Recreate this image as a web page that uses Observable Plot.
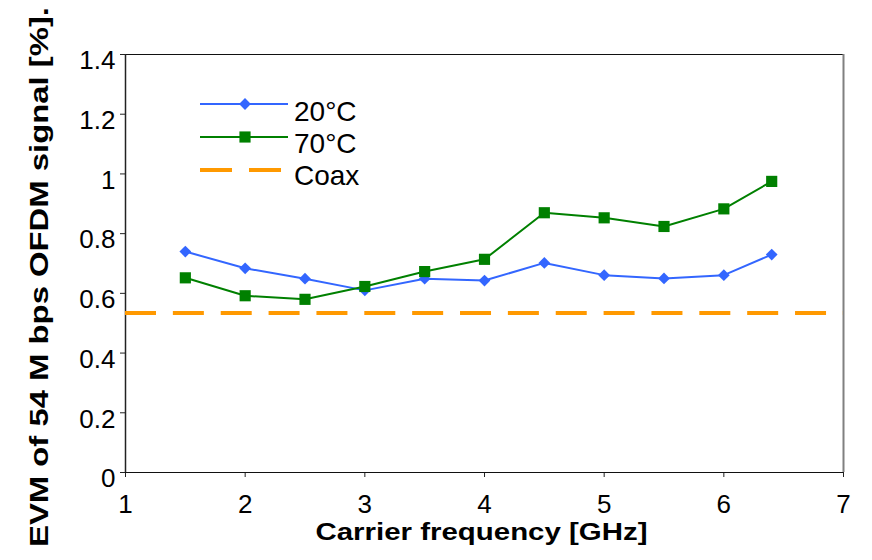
<!DOCTYPE html>
<html>
<head>
<meta charset="utf-8">
<script src="https://cdn.jsdelivr.net/npm/d3@7"></script>
<script src="https://cdn.jsdelivr.net/npm/@observablehq/plot@0.6"></script>
<style>
  html, body { margin: 0; padding: 0; background: #fff; }
  #wrap { position: relative; width: 872px; height: 560px; font-family: Arial, "Liberation Sans", sans-serif; }
  #legend { position: absolute; left: 0; top: 0; pointer-events: none; }
</style>
</head>
<body>
<div id="wrap"></div>
<script>
// ---- data ----
const freqs20 = [1.5, 2, 2.5, 3, 3.5, 4, 4.5, 5, 5.5, 6, 6.4];
const evm20   = [0.74, 0.684, 0.649, 0.61, 0.649, 0.643, 0.702, 0.661, 0.65, 0.661, 0.73];
const freqs70 = [1.5, 2, 2.5, 3, 3.5, 4, 4.5, 5, 5.5, 6, 6.4];
const evm70   = [0.652, 0.592, 0.58, 0.623, 0.673, 0.714, 0.87, 0.853, 0.824, 0.883, 0.975];
const coaxEvm = 0.534;
const xTicks = [1, 2, 3, 4, 5, 6, 7];
const yTicks = [0, 0.2, 0.4, 0.6, 0.8, 1, 1.2, 1.4];
const seriesNames = ["20°C", "70°C", "Coax"];
const xTitle = "Carrier frequency [GHz]";
const yTitle = "EVM of 54 M bps OFDM signal [%].";

const c20 = "#3366FF", c70 = "#008000", cCoax = "#FF9900";
const font = "Arial, 'Liberation Sans', sans-serif";
const fmt = d => String(+d.toFixed(1));

const d20 = freqs20.map((f, i) => ({x: f, y: evm20[i]}));
const d70 = freqs70.map((f, i) => ({x: f, y: evm70[i]}));

const chart = Plot.plot({
  width: 872,
  height: 560,
  marginLeft: 125,
  marginRight: 29,
  marginTop: 54,
  marginBottom: 88,
  style: {fontFamily: font, background: "white", color: "black"},
  x: {domain: [1, 7]},
  y: {domain: [0, 1.4]},
  marks: [
    // frame
    Plot.ruleY([1.4], {stroke: "#111", strokeWidth: 1.2}),
    Plot.ruleX([7], {stroke: "#808080", strokeWidth: 2}),
    // axes
    Plot.axisX({ticks: xTicks, tickSize: 5, tickPadding: 17, tickFormat: fmt, fontSize: 26, label: null, stroke: "#222"}),
    Plot.axisY({ticks: yTicks, tickSize: 5, tickFormat: () => "", label: null, stroke: "#222"}),
    Plot.axisY({ticks: yTicks, tickSize: 0, tickPadding: 10, dy: 6.5, tickFormat: fmt, fontSize: 26, label: null}),
    Plot.ruleX([1], {stroke: "#222", strokeWidth: 1.5}),
    Plot.ruleY([0], {stroke: "#111", strokeWidth: 1.2}),
    // coax reference
    Plot.ruleY([coaxEvm], {x1: 1, x2: 7, stroke: cCoax, strokeWidth: 4, strokeDasharray: "31,16.86"}),
    // series
    Plot.line(d20, {x: "x", y: "y", stroke: c20, strokeWidth: 2}),
    Plot.dot(d20, {x: "x", y: "y", symbol: "diamond2", r: 5.3, fill: c20, stroke: "none"}),
    Plot.line(d70, {x: "x", y: "y", stroke: c70, strokeWidth: 2}),
    Plot.dot(d70, {x: "x", y: "y", symbol: "square", r: 6.3, fill: c70, stroke: "none"}),
    // titles
    Plot.text([xTitle], {frameAnchor: "bottom", textAnchor: "middle", dy: 60.5, dx: -3, lineAnchor: "middle", fontSize: 23, fontWeight: "bold", fill: "black"}),
    Plot.text([yTitle], {frameAnchor: "left", textAnchor: "middle", rotate: -90, dx: -86, dy: 13.5, lineAnchor: "middle", fontSize: 25, fontWeight: "bold", fill: "black"})
  ]
});

const wrap = document.getElementById("wrap");
wrap.appendChild(chart);

// stretch axis titles to the reference lengths
d3.select(chart).selectAll("text").each(function() {
  if (this.textContent === xTitle) { this.setAttribute("textLength", 332); this.setAttribute("lengthAdjust", "spacingAndGlyphs"); }
  if (this.textContent === yTitle) { this.setAttribute("textLength", 540); this.setAttribute("lengthAdjust", "spacingAndGlyphs"); }
});

// legend
const leg = d3.select(wrap).append("svg").attr("id", "legend").attr("width", 872).attr("height", 560);
const items = [
  {name: seriesNames[0], color: c20, sym: d3.symbolDiamond2, size: Math.PI * 5.3 * 5.3, ly: 104, ty: 121, dash: null, w: 2},
  {name: seriesNames[1], color: c70, sym: d3.symbolSquare, size: Math.PI * 6.3 * 6.3, ly: 137, ty: 153, dash: null, w: 2},
  {name: seriesNames[2], color: cCoax, sym: null, ly: 170, ty: 185, dash: "32,17", w: 4}
];
items.forEach(it => {
  leg.append("line").attr("x1", 200).attr("x2", it.dash ? 281 : 288).attr("y1", it.ly).attr("y2", it.ly)
    .attr("stroke", it.color).attr("stroke-width", it.w).attr("stroke-dasharray", it.dash);
  if (it.sym) {
    leg.append("path").attr("d", d3.symbol(it.sym, it.size)()).attr("transform", `translate(245,${it.ly})`).attr("fill", it.color);
  }
  leg.append("text").attr("x", 294).attr("y", it.ty).attr("font-family", font).attr("font-size", 28).attr("fill", "black").text(it.name);
});
</script>
</body>
</html>
